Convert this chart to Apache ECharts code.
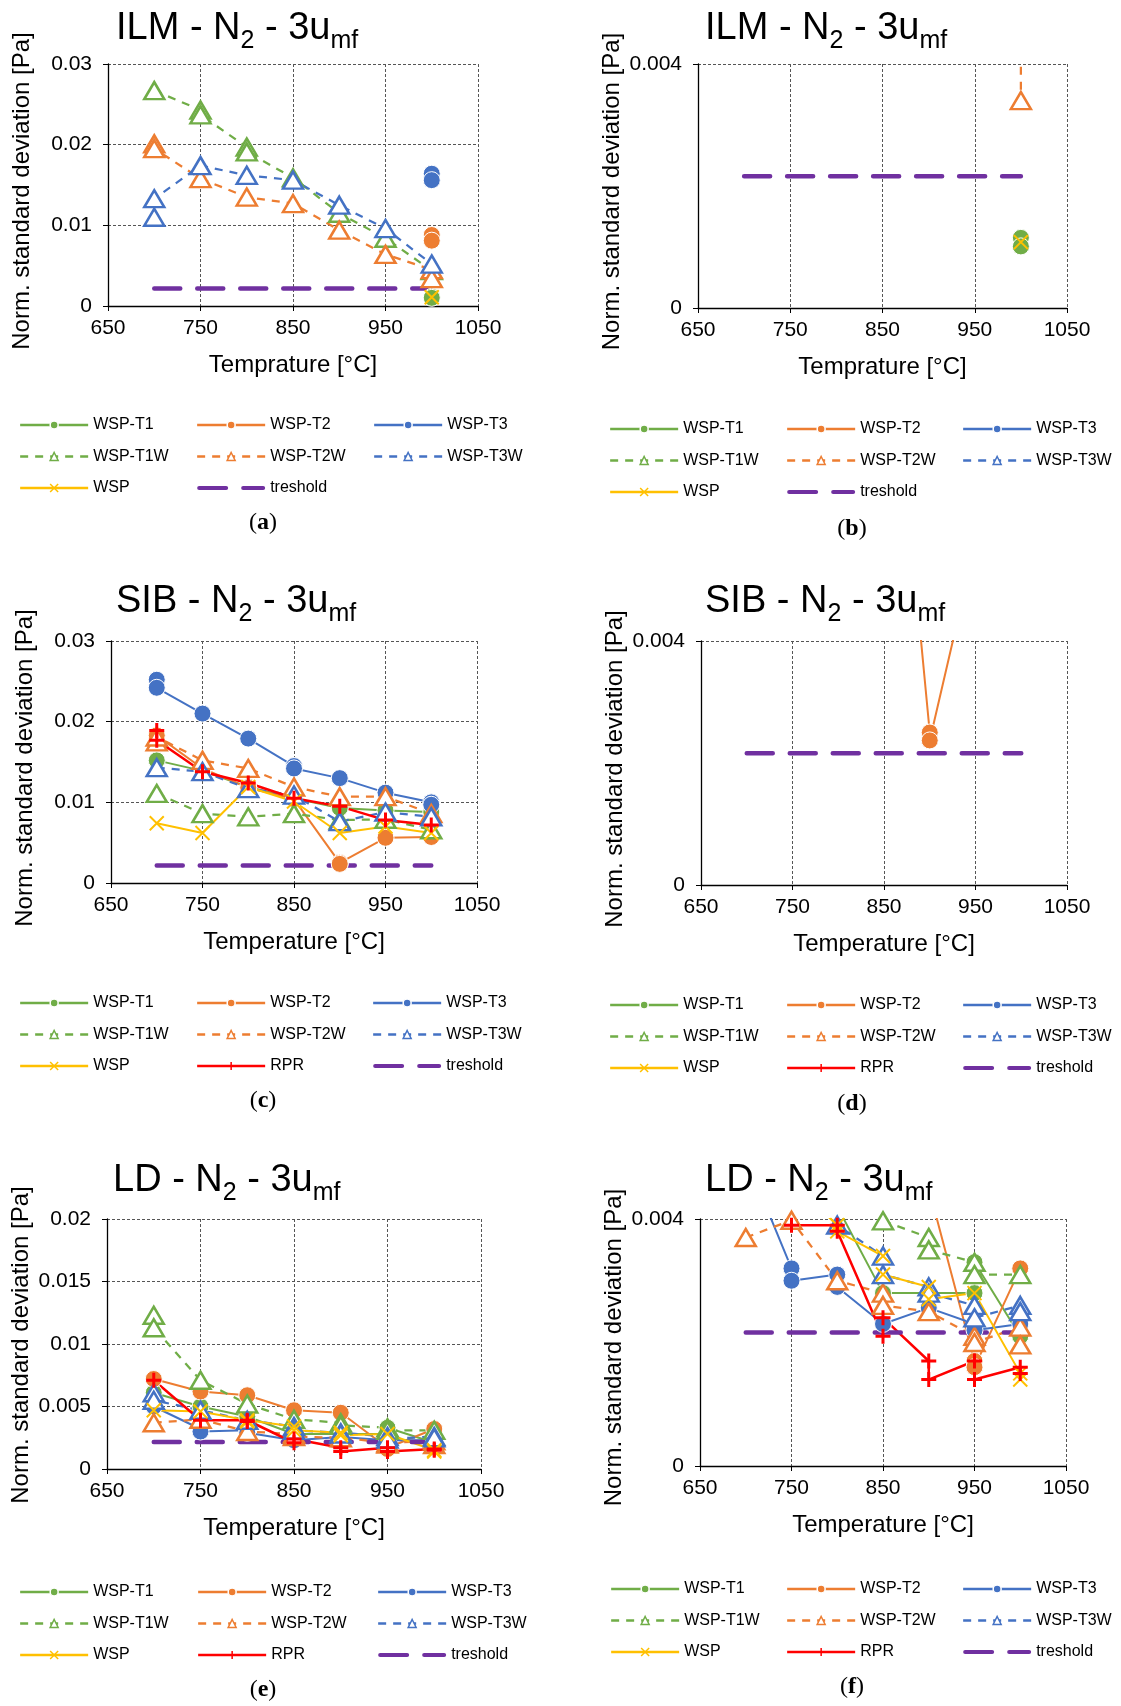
<!DOCTYPE html>
<html>
<head>
<meta charset="utf-8">
<script src="https://cdn.jsdelivr.net/npm/echarts/dist/echarts.min.js"></script>
<style>
html, body { margin: 0; padding: 0; background: #fff; }
#chart { width: 1121px; height: 1706px; }
</style>
</head>
<body>
<div id="chart"></div>
<script>
// axis ticks
const xMin = 650, xMax = 1050, xStep = 100;
const yMaxFull = [0.03, 0.004, 0.03, 0.004, 0.02, 0.004];
const yStep = [0.01, 0.004, 0.01, 0.004, 0.005, 0.004];

// threshold line
const threshold = 0.00216;
const thresholdFrom = 700, thresholdTo = 1000;

// ILM - N2 - 3umf  (panels a, b)
const ilmT1 = [[1000, 0.00115], [1000, 0.00101]];
const ilmT2 = [[1000, 0.0088], [1000, 0.0081]];
const ilmT3 = [[1000, 0.0164], [1000, 0.0156]];
const ilmT1W = [[700, 0.0267], [750, 0.0243], [750, 0.0237], [800, 0.0197], [800, 0.0191], [850, 0.0159], [900, 0.0115], [950, 0.0084], [1000, 0.0044]];
const ilmT2W = [[700, 0.0201], [700, 0.0195], [750, 0.0158], [800, 0.0135], [850, 0.0127], [900, 0.0094], [950, 0.0064], [1000, 0.0045], [1000, 0.0034]];
const ilmT3W = [[700, 0.0110], [700, 0.0133], [750, 0.0174], [800, 0.0162], [850, 0.0156], [900, 0.0125], [950, 0.0096], [1000, 0.0052]];
const ilmWSP = [[1000, 0.00108]];

// SIB - N2 - 3umf  (panels c, d)
const sibT1 = [[700, 0.0152], [750, 0.0139], [800, 0.0119], [850, 0.0105], [900, 0.0093], [950, 0.0090], [1000, 0.0088]];
const sibT2 = [[700, 0.0183], [750, 0.0142], [800, 0.0118], [850, 0.0104], [900, 0.0025], [900, 0.00237], [950, 0.0056], [1000, 0.0057]];
const sibT3 = [[700, 0.0252], [700, 0.0242], [750, 0.0210], [800, 0.0179], [850, 0.0145], [850, 0.0142], [900, 0.0130], [950, 0.0112], [1000, 0.0100], [1000, 0.0097]];
const sibT1W = [[700, 0.0111], [750, 0.0086], [800, 0.0082], [850, 0.0086], [900, 0.0078], [950, 0.0079], [1000, 0.0066]];
const sibT2W = [[700, 0.0175], [700, 0.0181], [750, 0.0152], [800, 0.0142], [850, 0.0119], [900, 0.0107], [950, 0.0107], [1000, 0.0086]];
const sibT3W = [[700, 0.0143], [750, 0.0138], [800, 0.0117], [850, 0.0109], [900, 0.0076], [950, 0.0088], [1000, 0.0082]];
const sibWSP = [[700, 0.0074], [750, 0.0062], [800, 0.0119], [850, 0.0101], [900, 0.0062], [950, 0.0070], [1000, 0.0062]];
const sibRPR = [[700, 0.0189], [700, 0.0177], [750, 0.0138], [800, 0.0124], [850, 0.0105], [900, 0.0095], [950, 0.0078], [1000, 0.0072]];

// LD - N2 - 3umf  (panels e, f)
const ldT1 = [[700, 0.0061], [750, 0.0050], [800, 0.0042], [850, 0.0028], [900, 0.0028], [950, 0.0028], [950, 0.0033], [1000, 0.0021]];
const ldT2 = [[700, 0.0072], [750, 0.0062], [800, 0.0059], [850, 0.0047], [900, 0.0045], [950, 0.0017], [950, 0.0016], [1000, 0.0032]];
const ldT3 = [[700, 0.0050], [750, 0.0032], [750, 0.0030], [800, 0.0031], [800, 0.0029], [850, 0.0023], [900, 0.00256], [950, 0.0023], [950, 0.0022], [1000, 0.0023]];
const ldT1W = [[700, 0.0123], [700, 0.0113], [750, 0.0071], [800, 0.0052], [850, 0.00397], [900, 0.0037], [900, 0.0035], [950, 0.0033], [950, 0.0031], [1000, 0.0031]];
const ldT2W = [[700, 0.0037], [750, 0.00398], [800, 0.0030], [850, 0.0028], [850, 0.0026], [900, 0.0025], [950, 0.0021], [950, 0.0020], [1000, 0.00225], [1000, 0.00196]];
const ldT3W = [[700, 0.0061], [700, 0.0055], [750, 0.0047], [800, 0.0039], [850, 0.0034], [850, 0.0031], [900, 0.0029], [900, 0.0028], [950, 0.0026], [950, 0.0024], [1000, 0.0026], [1000, 0.0025]];
const ldWSP = [[700, 0.0047], [750, 0.0046], [800, 0.0039], [800, 0.0038], [850, 0.0034], [850, 0.0031], [900, 0.0029], [900, 0.0027], [950, 0.0028], [1000, 0.0015], [1000, 0.0014]];
const ldRPR = [[700, 0.0071], [750, 0.0039], [800, 0.0039], [800, 0.0038], [850, 0.0021], [850, 0.0024], [900, 0.0017], [900, 0.0014], [950, 0.0017], [950, 0.0014], [1000, 0.0016], [1000, 0.0015]];

const GREEN = '#70AD47', ORANGE = '#ED7D31', BLUE = '#4472C4', YELLOW = '#FFC000', RED = '#FF0000', PURPLE = '#7030A0';
const FONT = 'Liberation Sans';

function dot(color) {
    return { symbol: 'circle', symbolSize: 17, itemStyle: { color: color, borderColor: '#fff', borderWidth: 1 }, lineStyle: { color: color, width: 2 } };
}
function tri(color) {
    return { symbol: 'triangle', symbolSize: [20, 17], itemStyle: { color: '#fff', borderColor: color, borderWidth: 2.5 }, lineStyle: { color: color, width: 2.25, type: [8, 7] } };
}
const crossStyle = { symbol: 'path://M0,0L10,10M10,0L0,10', symbolSize: 14, itemStyle: { color: YELLOW, borderColor: YELLOW, borderWidth: 2 }, lineStyle: { color: YELLOW, width: 2 } };
const plusStyle = { symbol: 'path://M5,0L5,10M0,5L10,5', symbolSize: 15, itemStyle: { color: RED, borderColor: RED, borderWidth: 3 }, lineStyle: { color: RED, width: 2.5 } };
const thresholdStyle = { symbol: 'none', itemStyle: { color: PURPLE }, lineStyle: { color: PURPLE, width: 4.5, type: [26, 17], cap: 'round' } };
// two long dashes for the threshold legend entry
const thresholdIcon = 'path://M2,0H29A2,2,0,0,1,29,4H2A2,2,0,0,1,2,0Z M46,0H66A2,2,0,0,1,66,4H46A2,2,0,0,1,46,0Z';

const panels = [
    { title: 'ILM', xName: 'Temprature [°C]', sets: [ilmT1, ilmT2, ilmT3, ilmT1W, ilmT2W, ilmT3W, ilmWSP, null], grid: [108, 64, 370, 242], namePad: 12 },
    { title: 'ILM', xName: 'Temprature [°C]', sets: [ilmT1, ilmT2, ilmT3, ilmT1W, ilmT2W, ilmT3W, ilmWSP, null], grid: [698, 64, 369, 244], namePad: 11 },
    { title: 'SIB', xName: 'Temperature [°C]', sets: [sibT1, sibT2, sibT3, sibT1W, sibT2W, sibT3W, sibWSP, sibRPR], grid: [111, 641, 366, 242], namePad: 12 },
    { title: 'SIB', xName: 'Temperature [°C]', sets: [sibT1, sibT2, sibT3, sibT1W, sibT2W, sibT3W, sibWSP, sibRPR], grid: [701, 641, 366, 244], namePad: 12 },
    { title: 'LD', xName: 'Temperature [°C]', sets: [ldT1, ldT2, ldT3, ldT1W, ldT2W, ldT3W, ldWSP, ldRPR], grid: [107, 1219, 374, 250], namePad: 2 },
    { title: 'LD', xName: 'Temperature [°C]', sets: [ldT1, ldT2, ldT3, ldT1W, ldT2W, ldT3W, ldWSP, ldRPR], grid: [700, 1219, 366, 247], namePad: 10 }
];
const seriesNames = ['WSP-T1', 'WSP-T2', 'WSP-T3', 'WSP-T1W', 'WSP-T2W', 'WSP-T3W', 'WSP', 'RPR'];
const seriesStyles = [dot(GREEN), dot(ORANGE), dot(BLUE), tri(GREEN), tri(ORANGE), tri(BLUE), crossStyle, plusStyle];

// title and legend placement
const titlePos = [[116, 7], [705, 7], [116, 580], [705, 580], [113, 1159], [705, 1159]];
const labelPos = [[263, 523], [852, 529], [263, 1101], [852, 1104], [263, 1690], [852, 1687]];
const legendCols = [[19, 196, 373], [609, 786, 962], [19, 196, 372], [609, 786, 962], [19, 197, 377], [610, 786, 962]];
const legendTop = [415, 419, 993, 995, 1582, 1579];

const grids = [], xAxes = [], yAxes = [], series = [], legends = [], graphics = [];

panels.forEach(function (p, i) {
    grids.push({ left: p.grid[0], top: p.grid[1], width: p.grid[2], height: p.grid[3] });
    xAxes.push({
        gridIndex: i, type: 'value', min: xMin, max: xMax, interval: xStep,
        name: p.xName, nameLocation: 'middle', nameGap: 47,
        nameTextStyle: { fontSize: 24, fontFamily: FONT, color: '#000' },
        axisLine: { show: true, onZero: false, lineStyle: { color: '#000', width: 1.3 } },
        axisTick: { show: true, length: 5, lineStyle: { color: '#000' } },
        axisLabel: { fontSize: 21, fontFamily: FONT, color: '#000', margin: 12, formatter: function (v) { return String(v); } },
        splitLine: { show: true, lineStyle: { color: '#555', width: 1, type: [3, 2] } }
    });
    yAxes.push({
        gridIndex: i, type: 'value', min: 0, max: yMaxFull[i], interval: yStep[i],
        name: 'Norm. standard deviation [Pa]', nameLocation: 'middle', nameRotate: 90, nameGap: 74,
        nameTextStyle: { fontSize: 24, fontFamily: FONT, color: '#000', padding: [0, p.namePad, 0, 0] },
        axisLine: { show: true, onZero: false, lineStyle: { color: '#000', width: 1.3 } },
        axisTick: { show: true, length: 5, lineStyle: { color: '#000' } },
        axisLabel: { fontSize: 21, fontFamily: FONT, color: '#000', margin: 16 },
        splitLine: { show: true, lineStyle: { color: '#555', width: 1, type: [3, 2] } }
    });
    p.sets.forEach(function (data, k) {
        if (!data) return;
        series.push(Object.assign({
            type: 'line', name: seriesNames[k], data: data,
            xAxisIndex: i, yAxisIndex: i, showAllSymbol: true, clip: true
        }, seriesStyles[k]));
    });
    series.push(Object.assign({
        type: 'line', name: 'treshold', xAxisIndex: i, yAxisIndex: i,
        data: [[thresholdFrom, threshold], [thresholdTo, threshold]]
    }, thresholdStyle));

    const cols = p.sets[7]
        ? [['WSP-T1', 'WSP-T1W', 'WSP'], ['WSP-T2', 'WSP-T2W', 'RPR'], ['WSP-T3', 'WSP-T3W', 'treshold']]
        : [['WSP-T1', 'WSP-T1W', 'WSP'], ['WSP-T2', 'WSP-T2W', 'treshold'], ['WSP-T3', 'WSP-T3W']];
    cols.forEach(function (names, c) {
        legends.push({
            orient: 'vertical', left: legendCols[i][c], top: legendTop[i], padding: 0,
            itemWidth: 68, itemHeight: 10, itemGap: 11.5, selectedMode: false,
            data: names.map(function (n) {
                return n === 'treshold' ? { name: n, icon: thresholdIcon, itemStyle: { color: PURPLE, borderWidth: 0 } } : n;
            }),
            itemStyle: { borderWidth: 1.5 },
            lineStyle: { width: 2.3 },
            textStyle: { fontSize: 16, fontFamily: FONT, color: '#000', lineHeight: 20 }
        });
    });

    graphics.push({
        type: 'text', x: titlePos[i][0], y: titlePos[i][1],
        style: {
            text: '{m|' + p.title + ' - N}{s|2}{m| - 3u}{s|mf}',
            verticalAlign: 'top',
            rich: {
                m: { fontSize: 38, fontFamily: FONT, fill: '#000', lineHeight: 44 },
                s: { fontSize: 25, fontFamily: FONT, fill: '#000', lineHeight: 44, padding: [25, 0, 0, 0] }
            }
        }
    });
    graphics.push({
        type: 'text', x: labelPos[i][0], y: labelPos[i][1],
        style: {
            text: '{p|(}{b|' + 'abcdef'[i] + '}{p|)}',
            align: 'center', verticalAlign: 'middle',
            rich: {
                p: { fontSize: 24, fontFamily: 'Liberation Serif', fill: '#000' },
                b: { fontSize: 24, fontFamily: 'Liberation Serif', fontWeight: 'bold', fill: '#000' }
            }
        }
    });
});

const chart = echarts.init(document.getElementById('chart'));
chart.setOption({
    animation: false,
    backgroundColor: '#fff',
    grid: grids,
    xAxis: xAxes,
    yAxis: yAxes,
    legend: legends,
    graphic: graphics,
    series: series
});
</script>
</body>
</html>
